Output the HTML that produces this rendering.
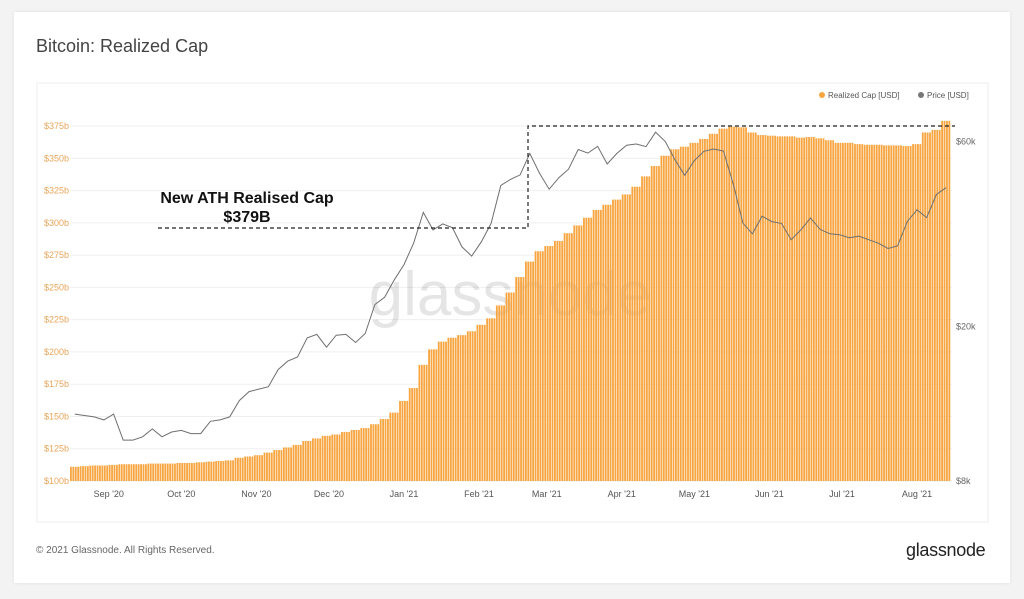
<!DOCTYPE html>
<html><head><meta charset="utf-8"><style>
body{margin:0;background:#f3f3f3;font-family:"Liberation Sans",sans-serif;}
#card{position:absolute;left:14px;top:12px;width:996px;height:571px;background:#fff;box-shadow:0 0 4px rgba(0,0,0,0.08);}
#title{position:absolute;left:36px;top:36px;font-size:18px;color:#444;}
#foot{position:absolute;left:36px;top:545px;font-size:10px;color:#666;}
#brand{position:absolute;left:906px;top:540px;font-size:18px;color:#222;letter-spacing:-0.3px;}
svg{position:absolute;left:0;top:0;}
</style></head><body>
<div id="card"></div>
<div id="title">Bitcoin: Realized Cap</div>
<div id="foot">© 2021 Glassnode. All Rights Reserved.</div>
<div id="brand">glassnode</div>
<svg id="chart" width="1024" height="599">
<rect x="37" y="83" width="951" height="439" fill="#fff" stroke="#eee"/>
<g id="grid"></g>
<text x="510" y="315" font-size="62" fill="#000" fill-opacity="0.1" text-anchor="middle" font-family="Liberation Sans">glassnode</text>
<g id="bars"></g>
<path id="price" fill="none" stroke="#6f6f6f" stroke-width="1"/>
<g id="axes"></g>
<path d="M158 228 H528 V126 H955" fill="none" stroke="#222" stroke-width="1.2" stroke-dasharray="4,3"/>
<text x="247" y="203" font-size="16" font-weight="bold" fill="#111" text-anchor="middle">New ATH Realised Cap</text>
<text x="247" y="222" font-size="16" font-weight="bold" fill="#111" text-anchor="middle">$379B</text>
<g>
<circle cx="822" cy="95" r="3" fill="#f7a541"/>
<text x="828" y="98" font-size="8" fill="#555">Realized Cap [USD]</text>
<circle cx="921" cy="95" r="3" fill="#777"/>
<text x="927" y="98" font-size="8" fill="#555">Price [USD]</text>
</g>
</svg>
<script>
const capValues=[111,111.5,112,112,112.5,113,113,113,113.5,113.5,113.5,114,114,114.5,115,115.5,116,118,119,120,122,124,126,128,131,133,135,136,138,139.5,141,144,148,153,162,172,190,202,208,211,213,216,221,226,236,246,258,270,278,282,286,292,298,304,310,314,318,322,328,336,344,352,357,359,362,365,369,373,374.5,374,370,368,367.5,367,367,366,366.5,365.5,364,362,362,361,360.5,360.5,360,360,359.5,361,370,372,379];
const priceValues=[11.9,11.8,11.7,11.5,11.9,10.2,10.2,10.4,10.9,10.4,10.7,10.8,10.6,10.6,11.4,11.5,11.7,12.9,13.6,13.8,14.0,15.5,16.3,16.7,18.7,19.1,17.7,19.0,19.1,18.2,19.2,22.8,23.8,26.4,28.9,32.8,39.4,35.5,36.8,36.0,32.1,30.4,33.1,36.9,46.2,47.9,49.2,55.9,49.7,45.2,48.4,50.9,57.2,56.0,58.3,52.5,55.9,58.7,59.1,58.2,63.4,60.0,53.8,49.1,53.6,56.6,57.4,56.7,46.8,37.0,34.7,38.5,37.3,36.9,33.5,35.5,38.1,35.6,34.7,34.5,33.9,34.2,33.5,32.8,31.8,32.3,37.3,40.0,38.2,43.8,45.6];
const capTicks=[100,125,150,175,200,225,250,275,300,325,350,375];
const priceTicks=[8,20,60];
const priceTickLabels=["$8k","$20k","$60k"];
const monthLabels=["Sep '20","Oct '20","Nov '20","Dec '20","Jan '21","Feb '21","Mar '21","Apr '21","May '21","Jun '21","Jul '21","Aug '21"];
const monthDays=[16,46,77,107,138,169,197,228,258,289,319,350];
const stepDays=4;
const NS="http://www.w3.org/2000/svg";
const x0=70,pxDay=2.42;
const xDay=d=>x0+d*pxDay;
const yCap=v=>481-(v-100)/25*32.27;
const yPrice=p=>481-168.5*Math.log(p/8);
function mk(tag,attrs,parent){const e=document.createElementNS(NS,tag);for(const k in attrs)e.setAttribute(k,attrs[k]);parent.appendChild(e);return e;}
const grid=document.getElementById('grid'),axes=document.getElementById('axes'),bars=document.getElementById('bars');
capTicks.forEach(v=>{
  const l=mk('line',{x1:70,x2:952,y1:yCap(v),y2:yCap(v),stroke:'#efefef'},grid);
  
  
  const t=mk('text',{x:44,y:yCap(v)+3,'font-size':9,fill:'#e8a55a'},axes);
  t.textContent='$'+v+'b';
  
  
});
priceTicks.forEach((p,i)=>{
  const t=mk('text',{x:956,y:yPrice(p)+3,'font-size':9,fill:'#666'},axes);
  t.textContent=priceTickLabels[i];
  
  
});
monthLabels.forEach((m,i)=>{
  const t=mk('text',{x:xDay(monthDays[i]),y:497,'font-size':9,fill:'#555','text-anchor':'middle'},axes);
  t.textContent=m;
  
  
});
const bw=stepDays*pxDay;
capValues.forEach((v,i)=>{
  const x=xDay(i*stepDays);
  for(let k=0;k<stepDays;k++){
    const r=mk('rect',{x:x+k*pxDay,y:yCap(v),width:pxDay-0.6,height:481-yCap(v),fill:'#f7a541'},bars);
    
    
  }
});
let d='';
priceValues.forEach((p,i)=>{d+=(i?'L':'M')+(xDay(i*stepDays)+bw/2).toFixed(1)+' '+yPrice(p).toFixed(1);});
document.getElementById('price').setAttribute('d',d);
</script>
</body></html>
